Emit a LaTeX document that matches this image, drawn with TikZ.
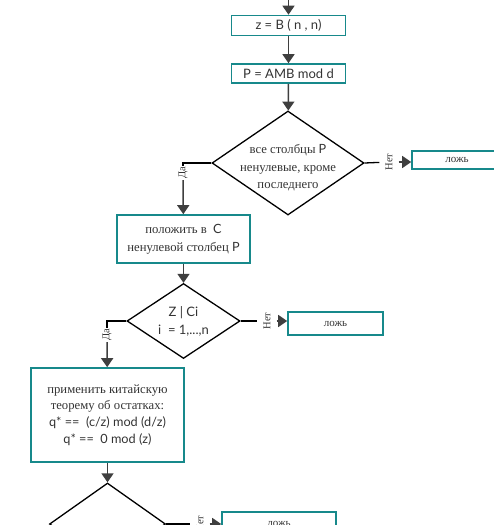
\documentclass[tikz,border=0pt]{standalone}
\usepackage{fontspec}
\setmainfont{Liberation Serif}
\newfontfamily\lat{Lato}
\usetikzlibrary{arrows.meta, shapes.geometric}
\definecolor{boxteal}{HTML}{17898B}
\definecolor{arrowgray}{HTML}{3F3F3F}
\definecolor{textgray}{HTML}{333333}

\begin{document}
\begin{tikzpicture}[x=1pt, y=1pt,
			box/.style={draw=boxteal, line width=1.6pt, inner sep=0pt,
				text=textgray, align=center},
			cond/.style={diamond, draw=black, line width=1.3pt, inner sep=0pt,
				aspect=1.5, text=textgray, align=center},
			arr/.style={draw=arrowgray, line width=1.5pt,
				-{Triangle[length=9pt, width=12pt]}},
			stub/.style={draw=black, line width=1.3pt},
			lbl/.style={rotate=90, inner xsep=1pt, inner ysep=6pt, text=textgray,
				font=\fontsize{10.5}{11}\selectfont}]

			\clip (0,0) rectangle (494,-525);

			% entry
			\coordinate (start) at (288.5,0);
			\node[box, minimum width=114pt, minimum height=20pt, font=\lat\fontsize{13}{14}\selectfont]
				(zb) at (288.5,-25.5) {z = B ( n , n)};
			\node[box, minimum width=114pt, minimum height=19pt, font=\lat\fontsize{13}{14}\selectfont]
				(pm) at (288.5,-73.5) {P = AMB mod d};

			% first check
			\node[cond, minimum width=152pt, minimum height=104pt] (allcols) at (288,-163) {};
			\node[text=textgray, align=center, font=\fontsize{12.7}{17.5}\selectfont]
				(allcolstxt) at (288,-168) {все столбцы {\lat P}\\ненулевые, кроме\\последнего};
			\node[lbl] (no1) at (389,-162) {Нет};
			\node[box, minimum width=90pt, minimum height=18pt, font=\fontsize{11}{12}\selectfont]
				(false1) at (457,-160) {ложь};
			\node[lbl] (yes1) at (183,-173) {Да};
			\node[box, minimum width=133pt, minimum height=48pt, font=\fontsize{12.7}{18}\selectfont]
				(putc) at (183.5,-239) {положить в\ \ {\lat C}\\ненулевой столбец {\lat P}};

			% second check
			\node[cond, minimum width=113pt, minimum height=75pt, font=\lat\fontsize{13}{18}\selectfont]
				(divides) at (183.5,-321) {Z | Ci\\i\ \ = 1,...,n};
			\node[lbl] (no2) at (267,-321) {Нет};
			\node[box, minimum width=95pt, minimum height=23pt, font=\fontsize{11}{12}\selectfont]
				(false2) at (335.5,-323.5) {ложь};
			\node[lbl] (yes2) at (107,-335) {Да};
			\node[box, minimum width=153pt, minimum height=94pt, font=\fontsize{12.7}{16.8}\selectfont]
				(crt) at (107.5,-415) {применить китайскую\\теорему об остатках:\\
				{\lat q* ==\ \ (c/z) mod (d/z)}\\{\lat q* ==\ \ 0 mod (z)}};

			% third check
			\node[cond, minimum width=116pt, minimum height=82pt] (check3) at (107.5,-524) {};
			\node[lbl] (no3) at (200,-524) {Нет};
			\node[box, minimum width=114pt, minimum height=24pt, font=\fontsize{11}{12}\selectfont]
				(false3) at (279,-524) {ложь};

			% connectors
			\draw[arr] (start) -- (zb);
			\draw[arr] (zb) -- (pm);
			\draw[arr] (pm) -- (allcols);
			\draw[stub] (allcols.east) -- (no1);
			\draw[arr] (no1) -- (no1 -| false1.west);
			\draw[stub] (allcols.west) -| (yes1);
			\draw[arr] (yes1) -- (putc);
			\draw[arr] (putc) -- (divides);
			\draw[stub] (divides.east) -- (no2);
			\draw[arr] (no2) -- (no2 -| false2.west);
			\draw[stub] (divides.west) -| (yes2);
			\draw[arr] (yes2) -- (crt);
			\draw[arr] (crt) -- (check3);
			\draw[stub] (check3.east) -- (no3);
			\draw[arr] (no3) -- (no3 -| false3.west);
		\end{tikzpicture}
\end{document}
